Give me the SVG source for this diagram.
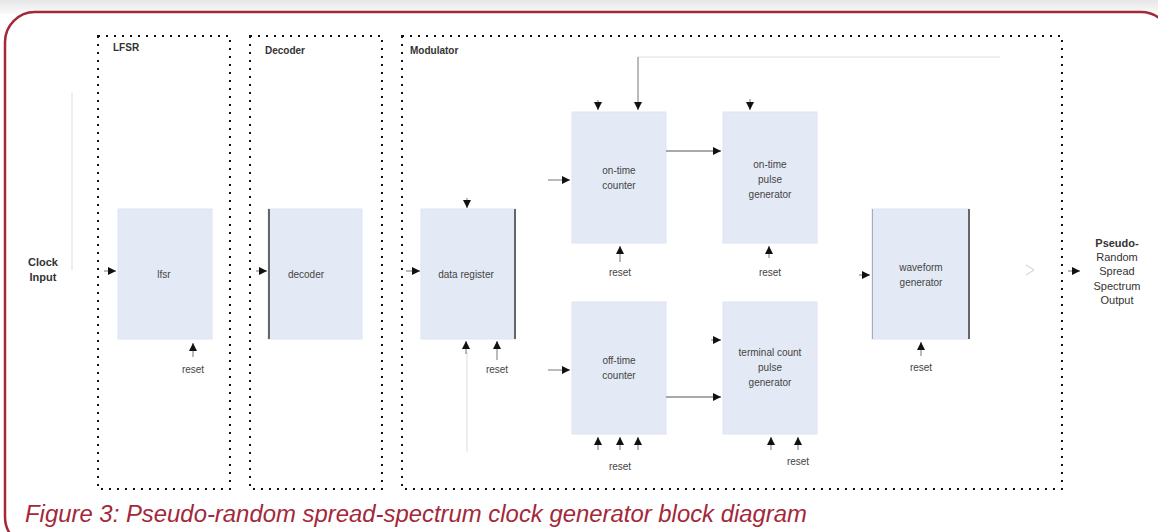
<svg xmlns="http://www.w3.org/2000/svg" width="1158" height="532" viewBox="0 0 1158 532">
<defs>
<linearGradient id="topShade" x1="0" y1="0" x2="0" y2="1">
<stop offset="0" stop-color="#e6e6e6"/>
<stop offset="1" stop-color="#fbfbfb"/>
</linearGradient>
<marker id="ah" markerUnits="userSpaceOnUse" markerWidth="9" markerHeight="8" refX="8" refY="4" orient="auto">
<path d="M0,0 L8,4 L0,8 z" fill="#111"/>
</marker>
<style>
.frame{fill:#fff;stroke:#a3283a;stroke-width:2.5}
.group{fill:none;stroke:#111;stroke-width:2;stroke-dasharray:2 6}
.blk{fill:#e4eaf5;stroke:#dde3ef;stroke-width:1}
.bar{stroke:#666;stroke-width:2}
.wire{stroke:#555;stroke-width:1.2;fill:none}
.stub{stroke:#777;stroke-width:1;fill:none}
.faint{stroke:#ddd;stroke-width:1;fill:none}
.t{font-family:"Liberation Sans",Arial,sans-serif;font-size:10px;fill:#444;text-anchor:middle}
.gl{font-family:"Liberation Sans",Arial,sans-serif;font-size:10px;font-weight:bold;fill:#333}
.io{font-family:"Liberation Sans",Arial,sans-serif;font-size:11px;fill:#333;text-anchor:middle}
.cap{font-family:"Liberation Sans",Arial,sans-serif;font-size:23px;font-style:italic;fill:#a3283a}
</style>
</defs>
<rect x="0" y="0" width="1158" height="532" fill="#fff"/>
<rect x="0" y="0" width="1158" height="14" fill="url(#topShade)"/>
<rect class="frame" x="5" y="12" width="1166" height="535" rx="30" ry="30"/>

<g id="lfsr-group">
<rect class="group" x="98" y="36" width="132" height="453"/>
<text class="gl" x="113" y="51">LFSR</text>
</g>
<g id="decoder-group">
<rect class="group" x="250" y="36" width="132" height="453"/>
<text class="gl" x="265" y="54">Decoder</text>
</g>
<g id="modulator-group">
<rect class="group" x="402" y="36" width="660" height="453"/>
<text class="gl" x="410" y="54">Modulator</text>
</g>

<g id="clock-input">
<text class="io" x="43" y="266" font-weight="bold">Clock</text>
<text class="io" x="43" y="281" font-weight="bold">Input</text>
</g>

<g id="lfsr">
<rect class="blk" x="118" y="209" width="94" height="130"/>
<text class="t" x="164" y="278">lfsr</text>
</g>
<g id="decoder">
<rect class="blk" x="268" y="209" width="94" height="130"/>
<line class="bar" x1="269" y1="209" x2="269" y2="339"/>
<text class="t" x="306" y="278">decoder</text>
</g>
<g id="data-register">
<rect class="blk" x="421" y="209" width="94" height="130"/>
<line class="bar" x1="515" y1="209" x2="515" y2="339"/>
<text class="t" x="466" y="278">data register</text>
</g>
<g id="on-time-counter">
<rect class="blk" x="572" y="112" width="94" height="131"/>
<text class="t" x="619" y="174">on-time</text>
<text class="t" x="619" y="189">counter</text>
</g>
<g id="on-time-pulse-generator">
<rect class="blk" x="723" y="112" width="94" height="131"/>
<text class="t" x="770" y="168">on-time</text>
<text class="t" x="770" y="183">pulse</text>
<text class="t" x="770" y="198">generator</text>
</g>
<g id="off-time-counter">
<rect class="blk" x="572" y="302" width="94" height="132"/>
<text class="t" x="619" y="364">off-time</text>
<text class="t" x="619" y="379">counter</text>
</g>
<g id="terminal-count-pulse-generator">
<rect class="blk" x="723" y="302" width="94" height="132"/>
<text class="t" x="770" y="356">terminal count</text>
<text class="t" x="770" y="371">pulse</text>
<text class="t" x="770" y="386">generator</text>
</g>
<g id="waveform-generator">
<rect class="blk" x="872" y="209" width="97" height="130"/>
<line class="bar" x1="969" y1="209" x2="969" y2="339"/>
<line x1="872.5" y1="209" x2="872.5" y2="339" stroke="#aab" stroke-width="1"/>
<text class="t" x="921" y="271">waveform</text>
<text class="t" x="921" y="286">generator</text>
</g>

<g id="output">
<text class="io" x="1117" y="247" font-weight="bold">Pseudo-</text>
<text class="io" x="1117" y="261">Random</text>
<text class="io" x="1117" y="275">Spread</text>
<text class="io" x="1117" y="290">Spectrum</text>
<text class="io" x="1117" y="304">Output</text>
</g>

<g id="reset-labels">
<text class="t" x="193" y="373">reset</text>
<text class="t" x="497" y="373">reset</text>
<text class="t" x="620" y="276">reset</text>
<text class="t" x="770" y="276">reset</text>
<text class="t" x="620" y="470">reset</text>
<text class="t" x="798" y="465">reset</text>
<text class="t" x="921" y="371">reset</text>
</g>

<g id="connectors">
<line class="faint" x1="72" y1="93" x2="72" y2="270"/>
<line class="faint" x1="467" y1="352" x2="467" y2="452"/>
<polyline class="faint" points="1000,57 638,57"/>
<line class="stub" x1="638" y1="57" x2="638" y2="110" marker-end="url(#ah)"/>
<polyline points="1026,265 1034,270 1026,275" fill="none" stroke="#ccc" stroke-width="1"/>

<line class="wire" x1="666" y1="151" x2="721" y2="151" marker-end="url(#ah)"/>
<line class="wire" x1="666" y1="397" x2="721" y2="397" marker-end="url(#ah)"/>

<line class="stub" x1="104" y1="271" x2="116" y2="271" marker-end="url(#ah)"/>
<line class="stub" x1="256" y1="271" x2="267" y2="271" marker-end="url(#ah)"/>
<line class="stub" x1="406" y1="271" x2="420" y2="271" marker-end="url(#ah)"/>
<line class="stub" x1="467" y1="198" x2="467" y2="208" marker-end="url(#ah)"/>
<line class="stub" x1="466" y1="354" x2="466" y2="341" marker-end="url(#ah)"/>
<line class="stub" x1="497" y1="360" x2="497" y2="341" marker-end="url(#ah)"/>
<line class="stub" x1="193" y1="357" x2="193" y2="343" marker-end="url(#ah)"/>

<line class="stub" x1="598" y1="100" x2="598" y2="110" marker-end="url(#ah)"/>
<line class="stub" x1="548" y1="180" x2="570" y2="180" marker-end="url(#ah)"/>
<line class="stub" x1="620" y1="262" x2="620" y2="246" marker-end="url(#ah)"/>
<line class="stub" x1="750" y1="99" x2="750" y2="110" marker-end="url(#ah)"/>
<line class="stub" x1="769" y1="258" x2="769" y2="246" marker-end="url(#ah)"/>

<line class="stub" x1="548" y1="370" x2="570" y2="370" marker-end="url(#ah)"/>
<line class="stub" x1="598" y1="450" x2="598" y2="437" marker-end="url(#ah)"/>
<line class="stub" x1="620" y1="450" x2="620" y2="437" marker-end="url(#ah)"/>
<line class="stub" x1="638" y1="450" x2="638" y2="437" marker-end="url(#ah)"/>
<line class="stub" x1="711" y1="340" x2="721" y2="340" marker-end="url(#ah)"/>
<line class="stub" x1="771" y1="450" x2="771" y2="437" marker-end="url(#ah)"/>
<line class="stub" x1="798" y1="450" x2="798" y2="437" marker-end="url(#ah)"/>

<line class="stub" x1="859" y1="275" x2="870" y2="275" marker-end="url(#ah)"/>
<line class="stub" x1="921" y1="356" x2="921" y2="342" marker-end="url(#ah)"/>
<line class="stub" x1="1068" y1="271" x2="1080" y2="271" marker-end="url(#ah)"/>
</g>

<text class="cap" x="25" y="522" textLength="782" lengthAdjust="spacingAndGlyphs">Figure 3: Pseudo-random spread-spectrum clock generator block diagram</text>
</svg>
